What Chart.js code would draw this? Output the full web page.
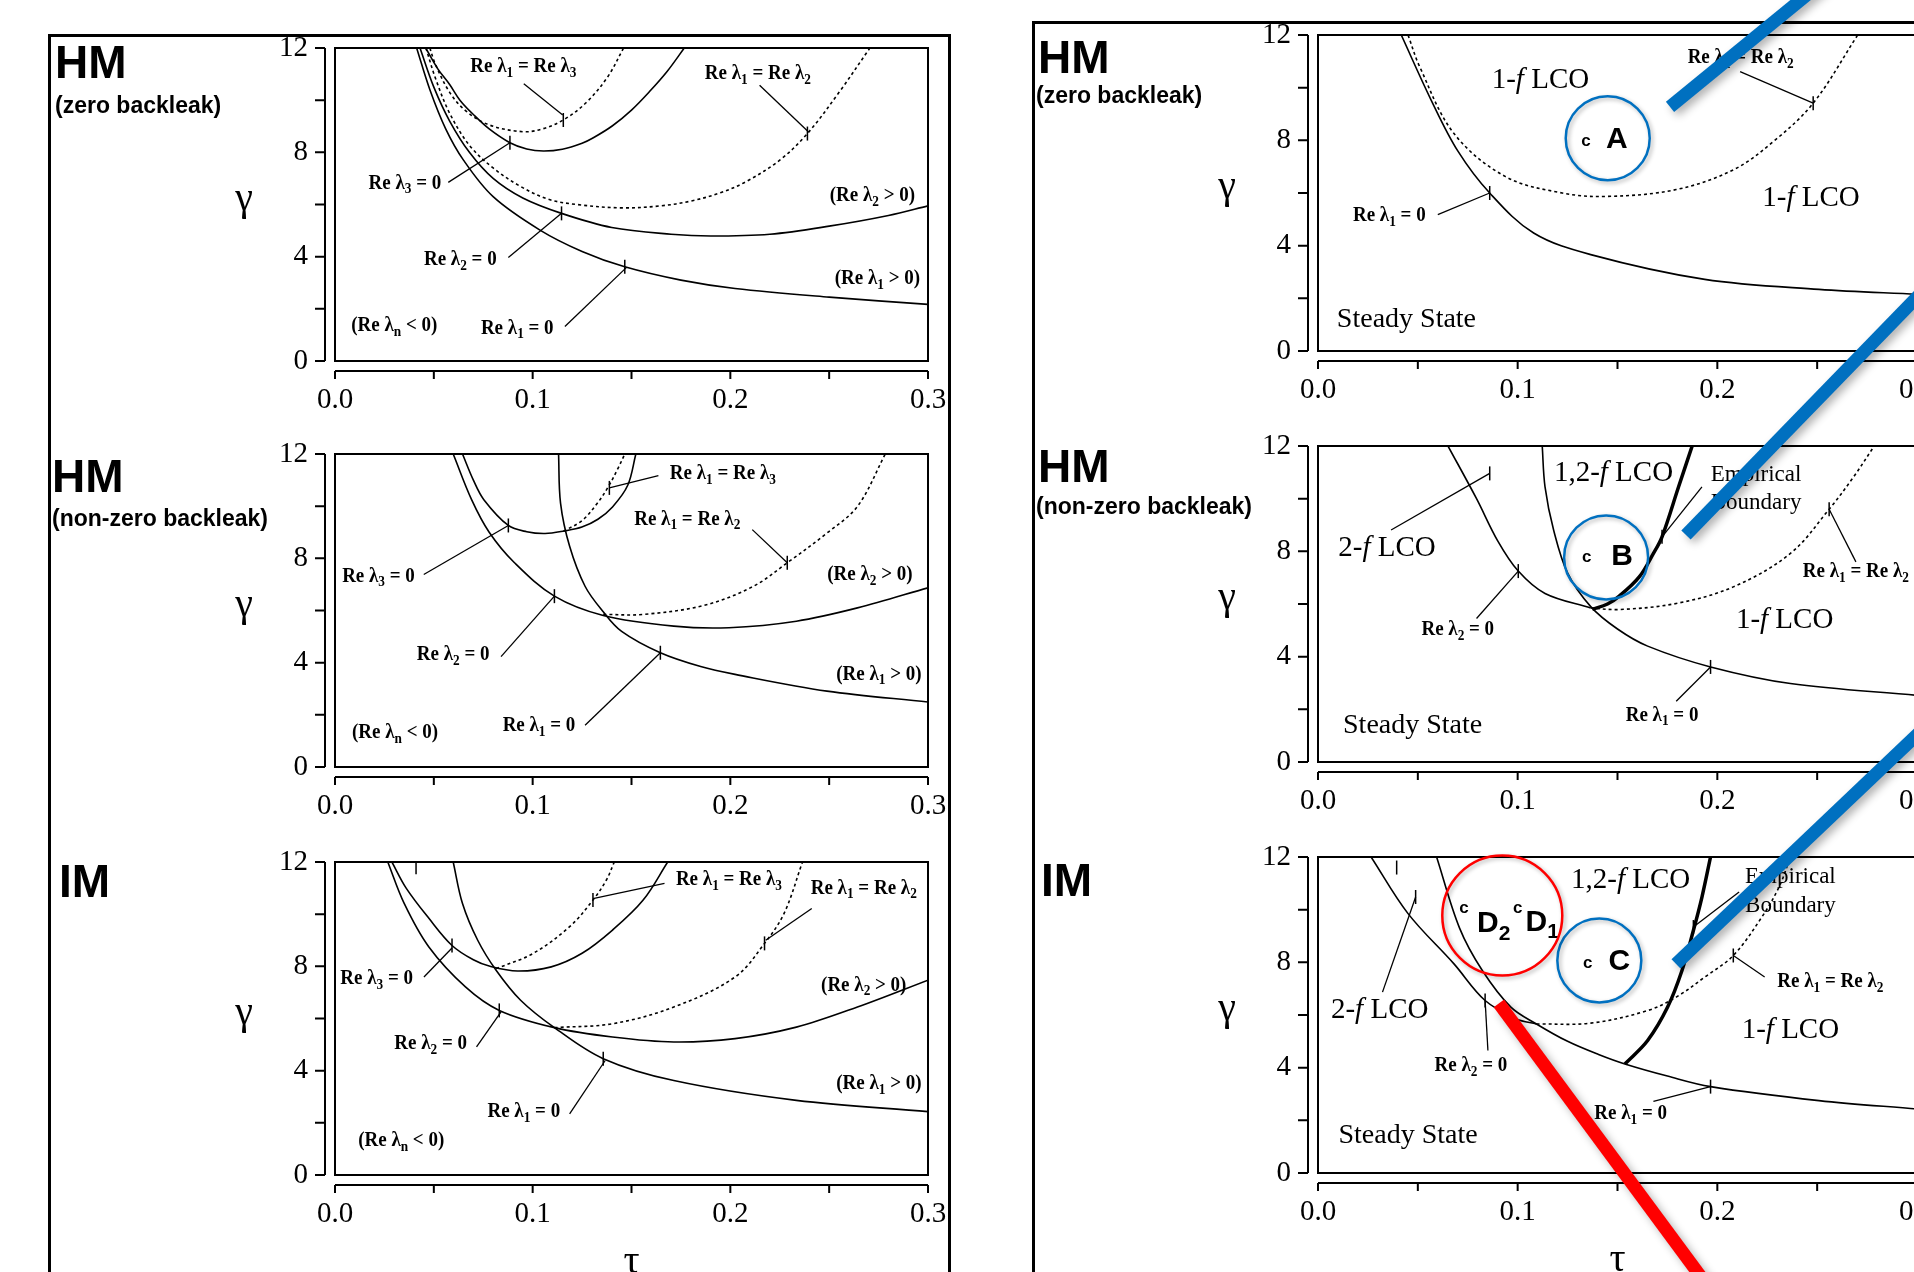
<!DOCTYPE html>
<html>
<head>
<meta charset="utf-8">
<script src="https://cdn.jsdelivr.net/npm/chart.js@4.4.1/dist/chart.umd.min.js"></script>
<style>
html, body { margin: 0; padding: 0; background: #fff; width: 1914px; height: 1272px; overflow: hidden; }
canvas { position: absolute; left: 0; top: -80px; }
.frame { position: absolute; border: 3px solid #000; box-sizing: border-box; }
</style>
</head>
<body>
<div class="frame" style="left:48px;top:34px;width:903px;height:1300px"></div>
<div class="frame" style="left:1032px;top:21px;width:1000px;height:1300px"></div>
<canvas id="L1" width="2000" height="1400"></canvas>
<canvas id="L2" width="2000" height="1400"></canvas>
<canvas id="L3" width="2000" height="1400"></canvas>
<canvas id="R1" width="2000" height="1400"></canvas>
<canvas id="R2" width="2000" height="1400"></canvas>
<canvas id="R3" width="2000" height="1400"></canvas>
<script>
const SERIF = "'Liberation Serif', 'Times New Roman', serif";
const SANS = "'Liberation Sans', Arial, sans-serif";

// axes
const TAU_RANGE = [0, 0.3];
const TAU_STEP = 0.05;
const TAU_LABELS = [0.0, 0.1, 0.2, 0.3];
const GAMMA_RANGE = [0, 12];
const GAMMA_STEP = 2;
const GAMMA_LABELS = [0, 4, 8, 12];

// ---- left column, HM zero backleak ----
const LZ_RE1 = [[0.0413,12],[0.048,10.4],[0.056,8.9],[0.065,7.7],[0.080,6.3],[0.1037,5.02],[0.125,4.2],[0.1466,3.61],[0.175,3.1],[0.2024,2.78],[0.25,2.45],[0.30,2.17]];
const LZ_RE2 = [[0.043,12],[0.050,10.5],[0.058,9.2],[0.068,8.0],[0.080,7.0],[0.095,6.25],[0.1146,5.66],[0.14,5.12],[0.17,4.86],[0.19,4.79],[0.22,4.86],[0.25,5.17],[0.28,5.58],[0.30,5.95]];
const LZ_RE3 = [[0.0459,12],[0.052,11.2],[0.058,10.6],[0.0632,10.0],[0.070,9.45],[0.078,8.9],[0.0885,8.37],[0.097,8.13],[0.1054,8.05],[0.115,8.12],[0.125,8.35],[0.1307,8.56],[0.1404,9.02],[0.15,9.62],[0.159,10.32],[0.168,11.1],[0.1767,12]];
const LZ_D13 = [[0.048,12],[0.0506,11.41],[0.058,10.3],[0.066,9.6],[0.078,9.05],[0.0953,8.79],[0.105,8.9],[0.1155,9.24],[0.127,9.9],[0.138,10.9],[0.146,12]];
const LZ_D12 = [[0.046,12],[0.051,10.8],[0.058,9.5],[0.068,8.27],[0.080,7.4],[0.0937,6.7],[0.108,6.2],[0.1223,6.0],[0.1451,5.87],[0.165,5.95],[0.18,6.13],[0.195,6.45],[0.208,6.88],[0.225,7.7],[0.239,8.72],[0.255,10.3],[0.2706,12]];
const LZ_LEADERS = [[[0.0955,10.63],[0.1152,9.43]],[[0.2148,10.57],[0.2396,8.78]],[[0.0573,6.85],[0.0885,8.37]],[[0.0877,3.97],[0.1146,5.66]],[[0.1163,1.32],[0.1475,3.59]]];
const LZ_MARKS = [[0.1155,9.24],[0.239,8.72],[0.0885,8.37],[0.1146,5.66],[0.1466,3.61]];
const LZ_NOTES = [
  ['Re λ_1 = Re λ_3', 0.0953, 11.28, 'ann'],
  ['Re λ_1 = Re λ_2', 0.2139, 11.0, 'ann'],
  ['Re λ_3 = 0', 0.0354, 6.81, 'ann'],
  ['Re λ_2 = 0', 0.0634, 3.88, 'ann'],
  ['Re λ_1 = 0', 0.0922, 1.25, 'ann'],
  ['(Re λ_n < 0)', 0.030, 1.35, 'ann'],
  ['(Re λ_2 > 0)', 0.2719, 6.33, 'ann'],
  ['(Re λ_1 > 0)', 0.2744, 3.14, 'ann']
];

// ---- left column, HM non-zero backleak ----
const LN_RE3 = [[0.0645,12],[0.070,11.0],[0.0753,10.25],[0.0877,9.26],[0.097,9.02],[0.1063,8.95],[0.116,9.05],[0.1249,9.2],[0.133,9.5],[0.1404,9.97],[0.1481,10.8],[0.1522,12]];
const LN_RE2 = [[0.0598,12],[0.0691,10.25],[0.078,9.0],[0.0908,7.83],[0.111,6.55],[0.1357,5.81],[0.1714,5.40],[0.1993,5.34],[0.2334,5.59],[0.2643,6.10],[0.30,6.87]];
const LN_RE1 = [[0.1131,12],[0.1141,10.12],[0.1187,8.46],[0.1265,6.93],[0.1357,5.95],[0.145,5.2],[0.1646,4.38],[0.185,3.85],[0.2024,3.55],[0.2489,2.91],[0.30,2.49]];
const LN_D13 = [[0.1156,9.04],[0.125,9.45],[0.1326,10.1],[0.1383,10.75],[0.1435,11.5],[0.1466,12]];
const LN_D12 = [[0.1357,5.85],[0.156,5.85],[0.1869,6.2],[0.2117,6.93],[0.2288,7.83],[0.2489,8.97],[0.2644,10.0],[0.2784,12]];
const LN_LEADERS = [[[0.1636,11.17],[0.1388,10.7]],[[0.2111,9.10],[0.2288,7.83]],[[0.0449,7.38],[0.0877,9.26]],[[0.084,4.23],[0.111,6.55]],[[0.1265,1.60],[0.1646,4.38]]];
const LN_MARKS = [[0.1388,10.7],[0.2288,7.83],[0.0877,9.26],[0.111,6.55],[0.1646,4.38]];
const LN_NOTES = [
  ['Re λ_1 = Re λ_3', 0.1962, 11.23, 'ann'],
  ['Re λ_1 = Re λ_2', 0.1782, 9.49, 'ann'],
  ['Re λ_3 = 0', 0.022, 7.31, 'ann'],
  ['Re λ_2 = 0', 0.0598, 4.31, 'ann'],
  ['Re λ_1 = 0', 0.1032, 1.57, 'ann'],
  ['(Re λ_n < 0)', 0.0304, 1.31, 'ann'],
  ['(Re λ_2 > 0)', 0.2706, 7.38, 'ann'],
  ['(Re λ_1 > 0)', 0.2752, 3.55, 'ann']
];

// ---- left column, IM ----
const LI_RE3 = [[0.0288,12],[0.036,11.0],[0.0474,9.85],[0.0592,8.8],[0.070,8.25],[0.0784,8.0],[0.0924,7.82],[0.1094,7.98],[0.125,8.5],[0.1404,9.39],[0.1559,10.54],[0.1683,12]];
const LI_RE2 = [[0.0267,12],[0.035,10.41],[0.0474,8.75],[0.066,7.21],[0.0831,6.31],[0.111,5.65],[0.1404,5.29],[0.1714,5.10],[0.2024,5.23],[0.2334,5.67],[0.2643,6.44],[0.30,7.47]];
const LI_RE1 = [[0.0598,12],[0.0645,10.41],[0.0722,9.0],[0.0815,7.85],[0.0939,6.70],[0.111,5.65],[0.1357,4.46],[0.1714,3.62],[0.2334,2.86],[0.30,2.43]];
const LI_D13 = [[0.0815,7.91],[0.1001,8.49],[0.1187,9.52],[0.1305,10.54],[0.1373,11.31],[0.1413,12]];
const LI_D12 = [[0.111,5.65],[0.1404,5.80],[0.1714,6.44],[0.2024,7.59],[0.2173,8.88],[0.2272,10.03],[0.2365,12]];
const LI_LEADERS = [[[0.1667,11.18],[0.1305,10.6]],[[0.2412,10.22],[0.2179,9.0]],[[0.045,7.59],[0.0592,8.7]],[[0.0716,4.91],[0.084,6.25]],[[0.1187,2.34],[0.1367,4.39]]];
const LI_MARKS = [[0.1305,10.54],[0.2173,8.88],[0.0592,8.8],[0.0831,6.31],[0.1357,4.46],[0.041,11.8]];
const LI_NOTES = [
  ['Re λ_1 = Re λ_3', 0.1993, 11.31, 'ann'],
  ['Re λ_1 = Re λ_2', 0.2675, 10.99, 'ann'],
  ['Re λ_3 = 0', 0.0211, 7.53, 'ann'],
  ['Re λ_2 = 0', 0.0484, 5.01, 'ann'],
  ['Re λ_1 = 0', 0.0955, 2.41, 'ann'],
  ['(Re λ_n < 0)', 0.0335, 1.32, 'ann'],
  ['(Re λ_2 > 0)', 0.2675, 7.27, 'ann'],
  ['(Re λ_1 > 0)', 0.2752, 3.50, 'ann']
];

// ---- right column, HM zero backleak ----
const RZ_RE1 = [[0.0417,12],[0.0566,9.54],[0.070,7.6],[0.086,6.0],[0.108,4.48],[0.1366,3.66],[0.1937,2.72],[0.2509,2.34],[0.30,2.15]];
const RZ_D12 = [[0.0451,12],[0.0509,10.8],[0.068,8.27],[0.0937,6.63],[0.1223,6.0],[0.1451,5.87],[0.1794,6.13],[0.208,6.88],[0.228,7.95],[0.248,9.41],[0.2703,12]];
const RZ_LEADERS = [[[0.2114,10.61],[0.248,9.41]],[[0.06,5.18],[0.086,6.0]]];
const RZ_MARKS = [[0.248,9.41],[0.086,6.0]];
const RZ_NOTES = [
  ['1-*f* LCO', 0.1114, 10.29, 'region'],
  ['1-*f* LCO', 0.2469, 5.81, 'region'],
  ['Re λ_1 = Re λ_2', 0.2117, 11.12, 'ann'],
  ['Re λ_1 = 0', 0.0357, 5.12, 'ann'],
  ['Steady State', 0.0443, 1.2, 'state'],
  ['c', 0.1342, 7.95, 'cs'],
  ['A', 0.1497, 8.01, 'cb']
];
const RZ_CIRCLES = [[0.1451, 8.08]];
const RZ_OVERLAY = [[0.1763,9.27],[0.2564,14.24]];

// ---- right column, HM non-zero backleak ----
const RN_RE2 = [[0.0651,12],[0.0794,10.0],[0.090,8.4],[0.1003,7.25],[0.1137,6.4],[0.1366,5.85]];
const RN_RE1 = [[0.1123,12],[0.1137,10.45],[0.118,8.81],[0.1251,7.16],[0.1366,5.9],[0.150,5.05],[0.1651,4.4],[0.1966,3.61],[0.2366,2.98],[0.30,2.53]];
const RN_D12 = [[0.1366,5.85],[0.1509,5.79],[0.1794,6.02],[0.208,6.65],[0.2366,7.92],[0.256,9.6],[0.268,10.8],[0.2786,12]];
const RN_EMP = [[0.1374,5.80],[0.145,6.0],[0.1509,6.3],[0.1609,7.03],[0.168,7.92],[0.1723,8.55],[0.1806,10.45],[0.1874,12]];
const RN_LEADERS = [[[0.0366,8.81],[0.086,10.96]],[[0.1923,10.45],[0.1723,8.55]],[[0.2694,7.6],[0.256,9.6]],[[0.0794,5.45],[0.1003,7.25]],[[0.1794,2.31],[0.1966,3.61]]];
const RN_MARKS = [[0.086,10.96],[0.1723,8.55],[0.256,9.6],[0.1003,7.25],[0.1966,3.61]];
const RN_NOTES = [
  ['2-*f* LCO', 0.0346, 8.11, 'region'],
  ['1,2-*f* LCO', 0.148, 10.96, 'region'],
  ['Empirical', 0.2194, 10.90, 'emp'],
  ['Boundary', 0.2194, 9.85, 'emp'],
  ['Re λ_1 = Re λ_2', 0.2694, 7.22, 'ann'],
  ['1-*f* LCO', 0.2337, 5.39, 'region'],
  ['Re λ_2 = 0', 0.070, 5.03, 'ann'],
  ['Re λ_1 = 0', 0.1723, 1.77, 'ann'],
  ['Steady State', 0.0474, 1.39, 'state'],
  ['c', 0.1346, 7.79, 'cs'],
  ['B', 0.1523, 7.79, 'cb']
];
const RN_CIRCLES = [[0.1443, 7.77]];
const RN_OVERLAY = [[0.1843,8.62],[0.3215,19.33]];

// ---- right column, IM ----
const RI_RE2 = [[0.0266,12],[0.0451,9.85],[0.068,7.95],[0.0837,6.55],[0.0994,5.85],[0.1094,5.66]];
const RI_RE1 = [[0.0594,12],[0.0709,9.3],[0.0823,7.69],[0.0966,6.3],[0.1094,5.66],[0.125,5.0],[0.1405,4.5],[0.1537,4.14],[0.175,3.68],[0.1966,3.28],[0.2509,2.75],[0.30,2.43]];
const RI_D12 = [[0.1094,5.66],[0.1366,5.69],[0.1651,6.17],[0.1794,6.68],[0.1937,7.44],[0.208,8.26],[0.2223,9.72],[0.2309,10.86],[0.2366,12]];
const RI_EMP = [[0.1537,4.14],[0.1651,5.03],[0.1751,6.3],[0.1823,7.69],[0.188,9.21],[0.1923,10.48],[0.1966,12]];
const RI_LEADERS = [[[0.0323,6.87],[0.0489,10.48]],[[0.2109,10.67],[0.188,9.34]],[[0.2237,7.44],[0.208,8.26]],[[0.0851,4.65],[0.0837,6.55]],[[0.168,2.72],[0.1966,3.28]]];
const RI_MARKS = [[0.0489,10.48],[0.188,9.34],[0.208,8.26],[0.0837,6.55],[0.1966,3.28],[0.0394,11.6]];
const RI_NOTES = [
  ['1,2-*f* LCO', 0.1566, 11.11, 'region'],
  ['Empirical', 0.2366, 11.24, 'emp'],
  ['Boundary', 0.2366, 10.16, 'emp'],
  ['2-*f* LCO', 0.0309, 6.17, 'region'],
  ['Re λ_1 = Re λ_2', 0.2566, 7.25, 'ann'],
  ['1-*f* LCO', 0.2366, 5.41, 'region'],
  ['Re λ_2 = 0', 0.0766, 4.08, 'ann'],
  ['Re λ_1 = 0', 0.1566, 2.24, 'ann'],
  ['Steady State', 0.0451, 1.42, 'state'],
  ['c', 0.0731, 10.04, 'cs'],
  ['D_2', 0.088, 9.45, 'cb'],
  ['c', 0.100, 10.04, 'cs'],
  ['D_1', 0.1123, 9.49, 'cb'],
  ['c', 0.1351, 7.95, 'cs'],
  ['C', 0.1509, 8.01, 'cb']
];
const RI_CIRCLES_RED = [[0.0923, 9.78]];
const RI_CIRCLES = [[0.1409, 8.07]];
const RI_OVERLAY = [[0.1793,7.94],[0.3215,18.19]];
const RI_OVERLAY_RED = [[0.0906,6.44],[0.2003,-4.82]];

// ---- page layout (pixels, page coordinates; canvases sit OFF_Y above the page) ----
const CANVAS_W = 2000, CANVAS_H = 1400, OFF_Y = 80;
const Y_W = 60, X_H = 70, AXIS_GAP = 10;
const BLUE = '#0070C0', RED = '#FF0000';

const TEXT_STYLES = {
  ann:    { size: 20, sub: 14, weight: 'bold', family: SERIF, sx: 0.95 },
  region: { size: 29, sub: 20, weight: 'normal', family: SERIF, sx: 1 },
  state:  { size: 28, sub: 20, weight: 'normal', family: SERIF, sx: 1 },
  emp:    { size: 23, sub: 16, weight: 'normal', family: SERIF, sx: 1 },
  cs:     { size: 17, sub: 12, weight: 'bold', family: SANS, sx: 1 },
  cb:     { size: 30, sub: 21, weight: 'bold', family: SANS, sx: 1 }
};

const PANELS = {
  L1: { box: { left: 335, top: 48, right: 928, bottom: 361 },
        title: ['HM', 55, 78], sub: ['(zero backleak)', 55, 113], tau: false,
        curves: [[LZ_RE1, 'solid'], [LZ_RE2, 'solid'], [LZ_RE3, 'solid'], [LZ_D13, 'dotted'], [LZ_D12, 'dotted']],
        leaders: LZ_LEADERS, marks: LZ_MARKS, notes: LZ_NOTES, circles: [], overlays: [] },
  L2: { box: { left: 335, top: 454, right: 928, bottom: 767 },
        title: ['HM', 52, 492], sub: ['(non-zero backleak)', 52, 526], tau: false,
        curves: [[LN_RE1, 'solid'], [LN_RE2, 'solid'], [LN_RE3, 'solid'], [LN_D13, 'dotted'], [LN_D12, 'dotted']],
        leaders: LN_LEADERS, marks: LN_MARKS, notes: LN_NOTES, circles: [], overlays: [] },
  L3: { box: { left: 335, top: 862, right: 928, bottom: 1175 },
        title: ['IM', 59, 897], sub: null, tau: true,
        curves: [[LI_RE1, 'solid'], [LI_RE2, 'solid'], [LI_RE3, 'solid'], [LI_D13, 'dotted'], [LI_D12, 'dotted']],
        leaders: LI_LEADERS, marks: LI_MARKS, notes: LI_NOTES, circles: [], overlays: [] },
  R1: { box: { left: 1318, top: 35, right: 1917, bottom: 351 },
        title: ['HM', 1038, 73], sub: ['(zero backleak)', 1036, 103], tau: false,
        curves: [[RZ_RE1, 'solid'], [RZ_D12, 'dotted']],
        leaders: RZ_LEADERS, marks: RZ_MARKS, notes: RZ_NOTES,
        circles: [[RZ_CIRCLES, BLUE, 42]], overlays: [[RZ_OVERLAY, BLUE]] },
  R2: { box: { left: 1318, top: 446, right: 1917, bottom: 762 },
        title: ['HM', 1038, 482], sub: ['(non-zero backleak)', 1036, 514], tau: false,
        curves: [[RN_RE1, 'solid'], [RN_RE2, 'solid'], [RN_D12, 'dotted'], [RN_EMP, 'thick']],
        leaders: RN_LEADERS, marks: RN_MARKS, notes: RN_NOTES,
        circles: [[RN_CIRCLES, BLUE, 42]], overlays: [[RN_OVERLAY, BLUE]] },
  R3: { box: { left: 1318, top: 857, right: 1917, bottom: 1173 },
        title: ['IM', 1041, 896], sub: null, tau: true,
        curves: [[RI_RE1, 'solid'], [RI_RE2, 'solid'], [RI_D12, 'dotted'], [RI_EMP, 'thick']],
        leaders: RI_LEADERS, marks: RI_MARKS, notes: RI_NOTES,
        circles: [[RI_CIRCLES_RED, RED, 60], [RI_CIRCLES, BLUE, 42]],
        overlays: [[RI_OVERLAY, BLUE], [RI_OVERLAY_RED, RED]] }
};

const toXY = pts => pts.map(([x, y]) => ({ x, y }));
const isLabelled = (v, list) => list.some(t => Math.abs(t - v) < 1e-9);

// text with _x subscripts and *italic* parts, centred on (cx, cy)
function drawRich(ctx, text, cx, cy, st) {
  const parts = [];
  let buf = '', italic = false;
  const push = (t, sub) => { if (t) parts.push({ t, sub, it: italic }); };
  for (let i = 0; i < text.length; i++) {
    const ch = text[i];
    if (ch === '_') { push(buf, false); buf = ''; push(text[i + 1], true); i++; continue; }
    if (ch === '*') { push(buf, false); buf = ''; italic = !italic; continue; }
    buf += ch;
  }
  push(buf, false);
  const fontOf = p => `${p.it ? 'italic ' : ''}${st.weight} ${p.sub ? st.sub : st.size}px ${st.family}`;
  let w = 0;
  parts.forEach(p => { ctx.font = fontOf(p); p.w = ctx.measureText(p.t).width; w += p.w; });
  ctx.save();
  ctx.translate(cx, cy);
  ctx.scale(st.sx, 1);
  ctx.fillStyle = '#000';
  ctx.textAlign = 'left';
  ctx.textBaseline = 'middle';
  let x = -w / 2;
  parts.forEach(p => {
    ctx.font = fontOf(p);
    ctx.fillText(p.t, x, p.sub ? st.size * 0.32 : 0);
    x += p.w;
  });
  ctx.restore();
}

// boxed plot area, offset axes, labels and notes
const paperPlugin = {
  id: 'paper',
  beforeDatasetsDraw(chart) {
    const p = PANELS[chart.canvas.id];
    const { ctx, chartArea: a, scales: { x, y } } = chart;
    ctx.save();
    ctx.strokeStyle = '#000';
    ctx.lineWidth = 2;
    ctx.strokeRect(a.left, a.top, a.right - a.left, a.bottom - a.top);

    ctx.beginPath();
    const ax = a.left - AXIS_GAP;
    ctx.moveTo(ax, y.getPixelForValue(y.max));
    ctx.lineTo(ax, y.getPixelForValue(y.min));
    y.ticks.forEach(t => {
      const py = y.getPixelForValue(t.value);
      ctx.moveTo(ax, py);
      ctx.lineTo(ax - 10, py);
    });
    const ay = a.bottom + AXIS_GAP;
    ctx.moveTo(x.getPixelForValue(x.min), ay);
    ctx.lineTo(x.getPixelForValue(x.max), ay);
    x.ticks.forEach(t => {
      const px = x.getPixelForValue(t.value);
      ctx.moveTo(px, ay);
      ctx.lineTo(px, ay + 8);
    });
    ctx.stroke();

    ctx.fillStyle = '#000';
    ctx.textAlign = 'center';
    ctx.textBaseline = 'alphabetic';
    ctx.font = `40px ${SERIF}`;
    ctx.fillText('γ', a.left - 91, (a.top + a.bottom) / 2 + 5);
    if (p.tau) ctx.fillText('τ', (a.left + a.right) / 2, a.bottom + 98);

    ctx.textAlign = 'left';
    ctx.font = `bold 46px ${SANS}`;
    ctx.fillText(p.title[0], p.title[1], p.title[2] + OFF_Y);
    if (p.sub) {
      ctx.font = `bold 23px ${SANS}`;
      ctx.fillText(p.sub[0], p.sub[1], p.sub[2] + OFF_Y);
    }
    ctx.restore();

    p.notes.forEach(([t, vx, vy, s]) =>
      drawRich(ctx, t, x.getPixelForValue(vx), y.getPixelForValue(vy), TEXT_STYLES[s]));
  },
  beforeDatasetDraw(chart, args) {
    const sh = chart.data.datasets[args.index].shadow;
    if (sh) {
      const ctx = chart.ctx;
      ctx.save();
      ctx.shadowColor = 'rgba(0,0,0,0.3)';
      ctx.shadowBlur = sh;
      ctx.shadowOffsetX = sh / 2;
      ctx.shadowOffsetY = sh / 2;
    }
  },
  afterDatasetDraw(chart, args) {
    if (chart.data.datasets[args.index].shadow) chart.ctx.restore();
  }
};

function buildDatasets(p) {
  const sets = [];
  p.curves.forEach(([pts, kind]) => sets.push({
    data: toXY(pts), showLine: true, pointRadius: 0,
    borderColor: '#000', borderWidth: kind === 'thick' ? 3.5 : 1.6,
    borderDash: kind === 'dotted' ? [3, 3] : [], tension: 0.35, order: 4
  }));
  p.leaders.forEach(pts => sets.push({
    data: toXY(pts), showLine: true, pointRadius: 0,
    borderColor: '#000', borderWidth: 1.3, order: 3
  }));
  sets.push({
    data: toXY(p.marks), showLine: false, pointStyle: 'line', pointRadius: 7, pointRotation: 90,
    pointBorderColor: '#000', borderColor: '#000', pointBorderWidth: 1.5, order: 3
  });
  p.circles.forEach(([pts, color, r]) => sets.push({
    data: toXY(pts), showLine: false, pointStyle: 'circle', pointRadius: r,
    pointBorderColor: color, borderColor: color, pointBorderWidth: 2.5,
    pointBackgroundColor: 'rgba(0,0,0,0)', backgroundColor: 'rgba(0,0,0,0)',
    clip: false, shadow: 4, order: 1
  }));
  p.overlays.forEach(([pts, color]) => sets.push({
    data: toXY(pts), showLine: true, pointRadius: 0, borderColor: color, borderWidth: 13,
    clip: false, shadow: 8, order: 0
  }));
  return sets;
}

Object.keys(PANELS).forEach(id => {
  const p = PANELS[id];
  const b = p.box;
  new Chart(document.getElementById(id), {
    type: 'scatter',
    data: { datasets: buildDatasets(p) },
    plugins: [paperPlugin],
    options: {
      responsive: false,
      animation: false,
      events: [],
      layout: { padding: {
        left: b.left - Y_W, top: b.top + OFF_Y,
        right: CANVAS_W - b.right, bottom: CANVAS_H - b.bottom - OFF_Y - X_H } },
      plugins: { legend: { display: false }, tooltip: { enabled: false } },
      scales: {
        x: {
          type: 'linear', min: TAU_RANGE[0], max: TAU_RANGE[1],
          grid: { display: false, drawTicks: false }, border: { display: false },
          ticks: {
            stepSize: TAU_STEP, autoSkip: false, maxRotation: 0, padding: 22, color: '#000',
            font: { family: SERIF, size: 29 },
            callback: v => isLabelled(v, TAU_LABELS) ? v.toFixed(1) : ''
          },
          afterFit: s => { s.height = X_H; }
        },
        y: {
          type: 'linear', min: GAMMA_RANGE[0], max: GAMMA_RANGE[1],
          grid: { display: false, drawTicks: false }, border: { display: false },
          ticks: {
            stepSize: GAMMA_STEP, autoSkip: false, padding: 27, color: '#000',
            font: { family: SERIF, size: 29 },
            callback: v => isLabelled(v, GAMMA_LABELS) ? String(v) : ''
          },
          afterFit: s => { s.width = Y_W; }
        }
      }
    }
  });
});
</script>
</body>
</html>
